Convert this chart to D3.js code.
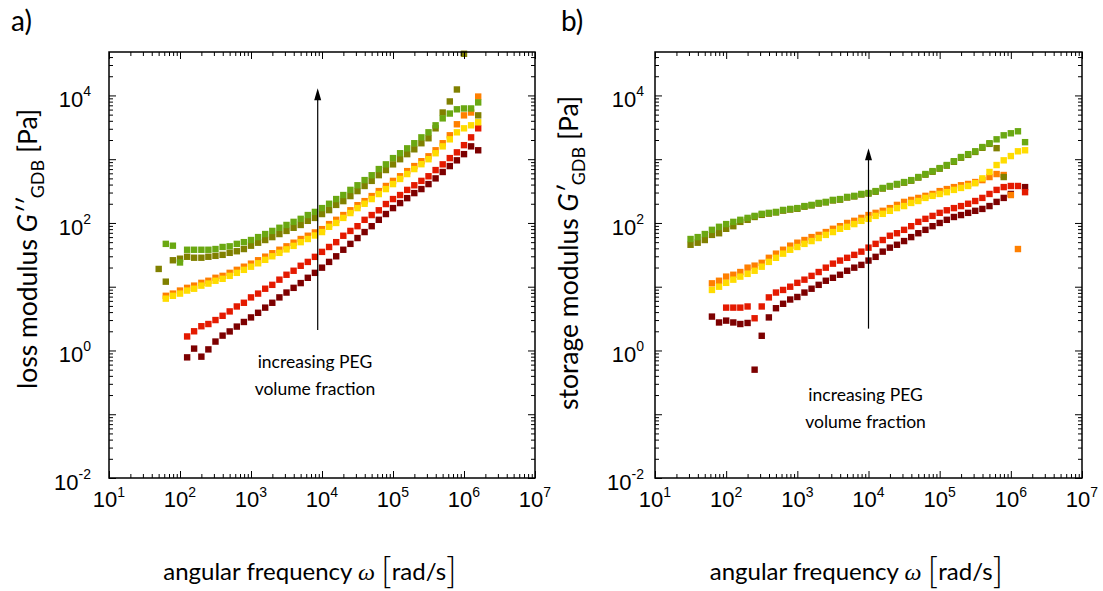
<!DOCTYPE html>
<html>
<head>
<meta charset="utf-8">
<script src="https://cdn.jsdelivr.net/npm/d3@7"></script>
<style>
body { margin: 0; background: #fff; }
text { fill: #000; }
.tick-lbl { font-family: 'Liberation Sans Narrow', 'Liberation Sans', sans-serif; }
.title { font-family: Lato, 'Open Sans', sans-serif; }
</style>
</head>
<body>
<svg id="fig" width="1103" height="591"></svg>
<script>

// angular frequency grid [rad/s], shared by every series
const omega = [31.6, 39.8, 50.1, 63.1, 79.4,
    100, 126, 158, 200, 251, 316, 398, 501, 631, 794,
    1000, 1259, 1585, 1995, 2512, 3162, 3981, 5012, 6310, 7943,
    10000, 12589, 15849, 19953, 25119, 31623, 39811, 50119, 63096, 79433,
    100000, 125893, 158489, 199526, 251189, 316228, 398107, 501187, 630957, 794328,
    1000000, 1258925, 1584893];

// sample order (low -> high PEG volume fraction) and colours
const samples = ['darkred', 'red', 'orange', 'yellow', 'olive', 'green'];
const sampleColors = ['#7d0000', '#e41a00', '#ff7f00', '#ffdc00', '#808000', '#6aa812'];

// a) loss modulus G'' [Pa]
const lossDarkred = [null, null, null, null, null,
    null, 0.78, 1.07, 0.80, 1.04, 1.38, 1.71, 1.99, 2.37, 2.8,
    3.3, 3.9, 4.7, 5.6, 6.8, 8.1, 9.6, 11.4, 13.8, 16.5,
    19.9, 24.5, 30, 38, 47, 58, 72, 89, 112, 138,
    171, 205, 245, 294, 340, 407, 500, 630, 780, 960,
    1200, 1590, 1380];
const lossRed = [null, null, null, null, null,
    null, 1.66, 2.0, 2.4, 2.6, 3.0, 3.5, 4.1, 4.9, 5.6,
    6.8, 7.8, 9.3, 10.7, 12.9, 15.4, 17.8, 21.3, 24.5, 29.4,
    35.2, 42, 50, 63, 75, 89, 112, 133, 158, 198,
    237, 274, 330, 390, 457, 540, 675, 830, 1040, 1280,
    1660, 2200, 3050];
const lossOrange = [null, null, null, 7.2, 7.8,
    8.7, 9.6, 10.4, 11.5, 12.4, 13.8, 14.8, 16.5, 18.4, 20.6,
    23, 26, 29.6, 33.5, 38, 43, 49, 56, 63, 71,
    80, 96, 112, 133, 158, 190, 220, 264, 316, 380,
    457, 540, 650, 780, 930, 1110, 1380, 1780, 2370, 3530,
    4870, 5400, 9600];
const lossYellow = [null, null, null, 6.5, 7.2,
    7.8, 8.7, 9.3, 10.4, 11.2, 12.4, 13.3, 14.8, 16.5, 18.4,
    20.6, 23.3, 26.4, 30, 34, 38.5, 43.7, 50, 56, 63.6,
    72, 87, 100, 120, 143, 171, 200, 237, 284, 340,
    407, 490, 585, 700, 835, 1000, 1240, 1590, 2050, 2640,
    3050, 3400, 3800];
const lossOlive = [null, null, 19, 12, 26,
    27.5, 29.5, 28.5, 28.5, 29.5, 30.5, 31.6, 34, 36, 39,
    44, 49, 54, 60, 67, 75, 84, 93, 108, 120,
    138, 159, 192, 220, 264, 316, 380, 457, 562, 676,
    830, 1000, 1200, 1430, 1780, 2130, 3050, 5400, 8050, 12400,
    45000, null, 4870];
const lossGreen = [null, null, null, 47, 44,
    24, 38, 38, 38, 38, 39, 42, 43, 47, 50,
    54, 60, 67, 75, 84, 93, 104, 116, 133, 149,
    171, 200, 237, 274, 330, 390, 470, 560, 700, 830,
    1040, 1240, 1480, 1780, 2200, 2640, 3400, 4370, 5200, 6060,
    6250, 6250, 7770];

// b) storage modulus G' [Pa]
const storDarkred = [null, null, null, 3.4, 2.75,
    2.94, 2.75, 2.6, 2.7, 0.5, 1.7, 3.3, 4.6, 5.4, 6.3,
    6.9, 8.1, 9.3, 10.7, 12.4, 13.8, 15.4, 17.8, 19.9, 22,
    25.7, 29.4, 35.5, 41, 45.5, 52, 60, 69, 78, 89,
    100, 112, 124, 133, 144, 155, 166, 184, 214, 247,
    285, null, 365];
const storRed = [null, null, null, null, null,
    4.7, 4.7, 4.7, 4.9, 3.2, 4.9, 6.8, 8.1, 8.9, 10,
    11.5, 12.9, 14.8, 17, 19.9, 23, 25.7, 28.4, 31.6, 35.5,
    41, 47, 54, 63, 69, 78, 89, 104, 116, 129,
    144, 158, 171, 184, 200, 221, 247, 285, 330, 365,
    380, 380, 304];
const storOrange = [null, null, null, 11.3, 12.4,
    14.4, 15.4, 17, 19.9, 21.4, 23.7, 28.4, 33, 38, 44,
    49, 54, 60, 65, 72, 81, 89, 100, 108, 120,
    133, 144, 155, 171, 192, 214, 230, 247, 266, 285,
    316, 340, 365, 390, 409, 438, 470, 525, 585, 565,
    274, 39, null];
const storYellow = [null, null, null, 8.9, 10,
    11.5, 12.9, 14.4, 15.9, 17.8, 20.6, 24.5, 28.4, 33, 38,
    42, 47, 52, 58, 65, 72, 81, 87, 96, 108,
    116, 129, 139, 155, 171, 184, 206, 221, 247, 266,
    285, 304, 330, 354, 380, 420, 500, 630, 810, 960,
    1120, 1330, 1380];
const storOlive = [45.5, 49, 54, 65, 69,
    81, 89, 104, 112, 124, 134, 140, 146, 156, 162,
    167, 180, 188, 201, 210, 225, 232, 250, 260, 279,
    289, 309, 346, 372, 400, 428, 460, 514, 572, 636,
    710, 792, 910, 1055, 1170, 1300, 1510, 1740, 1490, 525,
    null, null, null];
const storGreen = [56, 60, 67, 78, 87,
    96, 104, 112, 120, 129, 139, 144, 149, 160, 166,
    171, 184, 192, 206, 214, 230, 237, 256, 266, 285,
    295, 316, 354, 380, 409, 438, 470, 525, 585, 650,
    725, 810, 930, 1080, 1200, 1330, 1550, 1780, 2050, 2370,
    2550, 2740, 1850];

// axis ticks (decade exponents)
const xTickExps = [1, 2, 3, 4, 5, 6, 7];
const yTickExps = [-2, 0, 2, 4];
const noteLines = ['increasing PEG', 'volume fraction'];

const svg = d3.select('#fig');
const plot_top = 52, plot_bottom = 478;
const marker = 6.4;

const panels = [
    {label: 'a)', labelX: 11, left: 109, right: 535, yLblGap: 18,
     series: [lossDarkred, lossRed, lossOrange, lossYellow, lossOlive, lossGreen],
     yTitle: [['loss modulus ', ''], ['G\u2032\u2032', 'it'], ['GDB', 'sub'], [' [Pa]', 'up']],
     yTitleX: 37, yTitleY: 249,
     arrow: {w: 8700, from: 2.1, to: 1.3e4},
     note: {w: 7950, g: 0.54}},
    {label: 'b)', labelX: 561, left: 655, right: 1082, yLblGap: 11,
     series: [storDarkred, storRed, storOrange, storYellow, storOlive, storGreen],
     yTitle: [['storage modulus ', ''], ['G\u2032', 'it'], ['GDB', 'sub'], [' [Pa]', 'up']],
     yTitleX: 578, yTitleY: 253,
     arrow: {w: 10000, from: 2.2, to: 1480},
     note: {w: 9100, g: 0.16}}
];

const minorTicks = function(lo, hi){
    var out = [];
    for (var e = lo; e < hi; e++){
        for (var k = 2; k < 10; k++) out.push(k * Math.pow(10, e));
    }
    return out;
};

panels.forEach(function(p){

    const x = d3.scaleLog().domain([1e1, 1e7]).range([p.left, p.right]);
    const y = d3.scaleLog().domain([1e-2, 4.8e4]).range([plot_bottom, plot_top]);
    const w = p.right - p.left, h = plot_bottom - plot_top;

    const g = svg.append('g');

    // data markers
    p.series.forEach(function(vals, si){
        const pts = vals.map((v, i) => [omega[i], v]).filter(d => d[1] !== null);
        g.append('g').selectAll('rect')
            .data(pts)
            .enter()
          .append('rect')
            .attr('x', d => x(d[0]) - marker / 2)
            .attr('y', d => y(d[1]) - marker / 2)
            .attr('width', marker)
            .attr('height', marker)
            .attr('fill', sampleColors[si]);
    });

    // ticks on all four sides, pointing inward
    const xMajor = d3.range(1, 8).map(e => Math.pow(10, e));
    const yMajor = d3.range(-2, 5).map(e => Math.pow(10, e));
    const xMinor = minorTicks(1, 7);
    const yMinor = minorTicks(-2, 4).concat([2e4, 3e4, 4e4]);

    const addAxis = function(axisFn, scale, vals, size, tr){
        g.append('g')
            .attr('transform', tr)
            .call(axisFn(scale).tickValues(vals).tickSize(-size).tickFormat(''))
            .call(s => s.select('.domain').remove())
            .call(s => s.selectAll('line').attr('stroke', '#000').attr('stroke-width', 1));
    };
    addAxis(d3.axisBottom, x, xMajor, 7, `translate(0,${plot_bottom})`);
    addAxis(d3.axisBottom, x, xMinor, 4, `translate(0,${plot_bottom})`);
    addAxis(d3.axisTop, x, xMajor, 7, `translate(0,${plot_top})`);
    addAxis(d3.axisTop, x, xMinor, 4, `translate(0,${plot_top})`);
    addAxis(d3.axisLeft, y, yMajor, 7, `translate(${p.left},0)`);
    addAxis(d3.axisLeft, y, yMinor, 4, `translate(${p.left},0)`);
    addAxis(d3.axisRight, y, yMajor, 7, `translate(${p.right},0)`);
    addAxis(d3.axisRight, y, yMinor, 4, `translate(${p.right},0)`);

    g.append('rect')
        .attr('x', p.left).attr('y', plot_top)
        .attr('width', w).attr('height', h)
        .attr('fill', 'none')
        .attr('stroke', '#000')
        .attr('stroke-width', 1.5);

    // tick labels 10^n
    const xl = g.selectAll('.xlbl')
        .data(xTickExps)
        .enter()
      .append('text')
        .attr('class', 'tick-lbl xlbl')
        .attr('text-anchor', 'middle')
        .attr('x', d => x(Math.pow(10, d)))
        .attr('y', 507)
        .style('font-size', '22px');
    xl.append('tspan').text('10');
    xl.append('tspan').attr('dy', -10).style('font-size', '14px').text(d => d);

    const yl = g.selectAll('.ylbl')
        .data(yTickExps)
        .enter()
      .append('text')
        .attr('class', 'tick-lbl ylbl')
        .attr('text-anchor', 'end')
        .attr('x', p.left - p.yLblGap)
        .attr('y', d => y(Math.pow(10, d)) + 12)
        .style('font-size', '22px');
    yl.append('tspan').text('10');
    yl.append('tspan').attr('dy', -11).style('font-size', '14px').text(d => d);

    // x axis title
    const xt = g.append('text')
        .attr('class', 'title')
        .attr('text-anchor', 'middle')
        .attr('x', (p.left + p.right) / 2 - 12)
        .attr('y', 580)
        .style('font-size', '24px');
    xt.append('tspan').text('angular frequency ');
    xt.append('tspan').style('font-family', "'Liberation Serif', serif").style('font-style', 'italic').text('\u03c9');
    xt.append('tspan').text(' ');
    xt.append('tspan').style('font-size', '36px').style('font-weight', '300').attr('dy', 3).text('[');
    xt.append('tspan').attr('dy', -3).text('rad/s');
    xt.append('tspan').style('font-size', '36px').style('font-weight', '300').attr('dy', 3).text(']');

    // y axis title (rotated)
    const yt = g.append('text')
        .attr('class', 'title')
        .attr('text-anchor', 'middle')
        .attr('transform', `translate(${p.yTitleX},${p.yTitleY}) rotate(-90)`)
        .style('font-size', '26.5px');
    p.yTitle.forEach(function(part){
        const ts = yt.append('tspan').text(part[0]);
        if (part[1] === 'it') ts.style('font-style', 'italic');
        if (part[1] === 'sub') ts.attr('dy', 7).style('font-size', '18px');
        if (part[1] === 'up') ts.attr('dy', -7);
    });

    // panel label
    g.append('text')
        .attr('class', 'title')
        .attr('x', p.labelX)
        .attr('y', 31)
        .style('font-size', '28px')
        .text(p.label);

    // arrow: increasing PEG volume fraction
    const ax = x(p.arrow.w), ay0 = y(p.arrow.from), ay1 = y(p.arrow.to);
    g.append('path')
        .attr('d', `M${ax},${ay0}V${ay1 + 10}`)
        .attr('stroke', '#000')
        .attr('stroke-width', 1.2)
        .attr('fill', 'none');
    g.append('path')
        .attr('d', `M${ax},${ay1}L${ax - 3.5},${ay1 + 12}L${ax + 3.5},${ay1 + 12}Z`)
        .attr('fill', '#000');

    g.selectAll('.note')
        .data(noteLines)
        .enter()
      .append('text')
        .attr('class', 'title note')
        .attr('text-anchor', 'middle')
        .attr('x', x(p.note.w))
        .attr('y', (d, i) => y(p.note.g) + i * 27)
        .style('font-size', '17.5px')
        .text(d => d);
});

</script>
</body>
</html>
